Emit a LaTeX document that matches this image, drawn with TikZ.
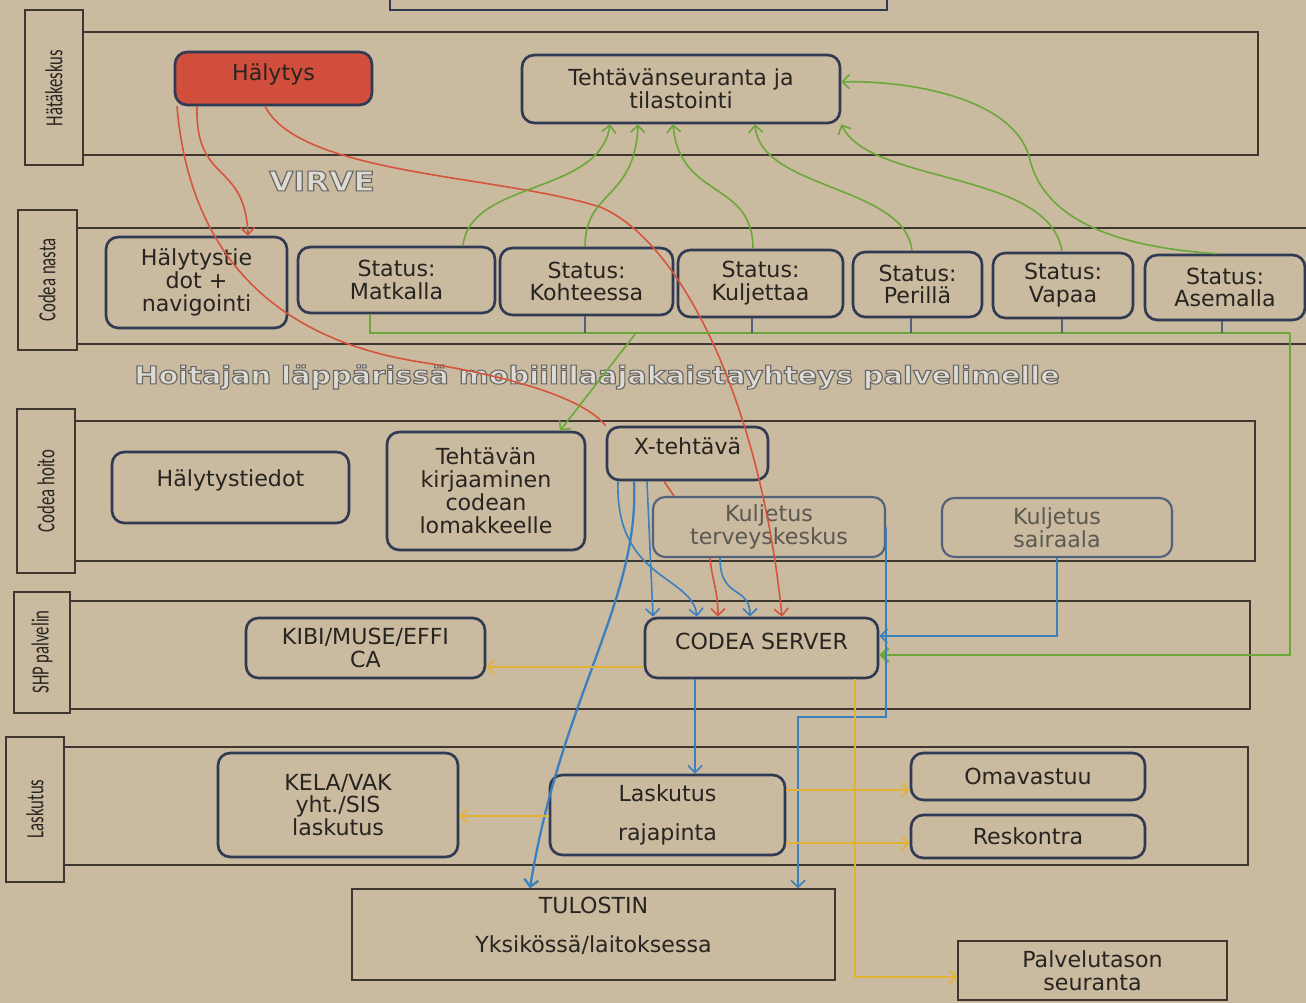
\documentclass[tikz,border=0pt]{standalone}
\usepackage{fontspec}
\usepackage{graphicx}
\setmainfont{DejaVu Sans}
\newfontfamily\lanefont[FakeStretch=0.68]{Carlito}
\usetikzlibrary{arrows.meta}

\definecolor{paper}{RGB}{201,186,160}
\definecolor{cBorder}{RGB}{48,58,82}
\definecolor{cFade}{RGB}{82,98,122}
\definecolor{cInk}{RGB}{40,36,32}
\definecolor{cFadeInk}{RGB}{92,88,82}
\definecolor{cAlarm}{RGB}{210,78,60}
\definecolor{cRed}{RGB}{214,84,62}
\definecolor{cGreen}{RGB}{106,168,56}
\definecolor{cBlue}{RGB}{58,128,190}
\definecolor{cYellow}{RGB}{228,178,50}
\definecolor{cLane}{RGB}{62,55,48}
\definecolor{cHollow}{RGB}{105,103,100}

% outlined lettering (text render mode 2: fill + stroke)
\newcommand\outlined[1]{\special{pdf:literal direct 2 Tr 0.6 w 0.87 0.86 0.83 rg}#1\special{pdf:literal direct 0 Tr}}

\begin{document}
\begin{tikzpicture}[x=0.02cm,y=-0.02cm,
                    >={Straight Barb[length=4pt,width=8pt]},
                    corners/.style args={#1/#2/#3/#4}{at={({(#1+#3)/2},{(#2+#4)/2})},
                                minimum width={(#3-#1)*0.02cm}, minimum height={(#4-#2)*0.02cm}},
                    box/.style={draw=cBorder, line width=1.5pt, rounded corners=7pt, fill=paper,
                                inner sep=0pt, align=center, text=cInk,
                                font=\fontsize{12.6}{13}\selectfont},
                    fade_box/.style={box, draw=cFade, line width=1.2pt, text=cFadeInk},
                    plain_box/.style={box, draw=cLane, line width=0.8pt, rounded corners=0pt},
                    lane_line/.style={draw=cLane, line width=0.7pt},
                    lane_label/.style={inner sep=0pt, rotate=90, text=cInk,
                                       font=\lanefont\fontsize{14}{16}\selectfont},
                    hollow_text/.style={inner sep=0pt, text=cHollow},
                    red_line/.style={draw=cRed, line width=0.9pt},
                    green_line/.style={draw=cGreen, line width=0.9pt},
                    blue_line/.style={draw=cBlue, line width=0.9pt},
                    yellow_line/.style={draw=cYellow, line width=0.9pt},
                    bus_tick/.style={draw=cFade, line width=0.7pt}
                    ]
        \useasboundingbox (0,0) rectangle (1306,1003);
        \fill[paper] (0,0) rectangle (1306,1003);
        \clip (0,0) rectangle (1306,1003);

        % lanes
        \draw[lane_line] (83,32) -| (1258,155) -- (83,155);
        \draw[lane_line] (77,228) -- (1306,228) (77,344) -- (1306,344);
        \draw[lane_line] (75,421) -| (1255,561) -- (75,561);
        \draw[lane_line] (70,601) -| (1250,709) -- (70,709);
        \draw[lane_line] (64,747) -| (1248,865) -- (64,865);
        \draw[lane_line] (25,10) rectangle (83,165)  (18,210) rectangle (77,350)
                         (17,409) rectangle (75,573) (14,592) rectangle (70,713)
                         (6,737) rectangle (64,882);
        \node[lane_label] (hq) at (54,88) {Hätäkeskus};
        \node[lane_label] (nasta) at (47,280) {Codea nasta};
        \node[lane_label] (hoito) at (46,491) {Codea hoito};
        \node[lane_label] (shp) at (42,652) {SHP palvelin};
        \node[lane_label] (billing) at (35,809) {Laskutus};

        % box cut off at the top edge
        \draw[draw=cBorder, line width=1.5pt] (390,-30) |- (887,10) -- (887,-30);

        \node[hollow_text, font=\bfseries\fontsize{15.5}{18}\selectfont] (virve) at (322,181)
            {\scalebox{1.15}[1]{\outlined{VIRVE}}};
        \node[hollow_text, font=\bfseries\fontsize{14}{16}\selectfont] (laptop) at (597,377)
            {\scalebox{1.17}[1]{\outlined{Hoitajan läppärissä mobiililaajakaistayhteys palvelimelle}}};

        % boxes
        \node[box, fill=cAlarm, text depth=7.4pt, corners=175/52/372/105] (alarm) {Hälytys};
        \node[box, corners=522/55/840/123] (stats) {Tehtävänseuranta ja\\tilastointi};
        \node[box, corners=106/237/287/328] (hdot) {Hälytystie\\dot +\\navigointi};
        \node[box, corners=298/247/495/313] (matka) {Status:\\Matkalla};
        \node[box, corners=500/248/673/315] (kohde) {Status:\\Kohteessa};
        \node[box, corners=678/250/843/317] (kulj) {Status:\\Kuljettaa};
        \node[box, corners=853/252/982/317] (peri) {Status:\\Perillä};
        \node[box, corners=993/253/1133/318] (vapaa) {Status:\\Vapaa};
        \node[box, corners=1145/255/1305/320] (asema) {Status:\\Asemalla};
        \node[box, text depth=10.8pt, corners=112/452/349/523] (htied) {Hälytystiedot};
        \node[box, corners=387/432/585/550] (ktask) {Tehtävän\\kirjaaminen\\codean\\lomakkeelle};
        \node[box, text depth=8.5pt, corners=607/427/768/480] (xtask) {X-tehtävä};
        \node[fade_box, corners=653/497/885/557] (tk) {Kuljetus\\terveyskeskus};
        \node[fade_box, corners=942/498/1172/557] (ts) {Kuljetus\\sairaala};
        \node[box, text depth=8pt, corners=645/618/878/678] (server) {CODEA SERVER};
        \node[box, corners=246/618/485/678] (kibi) {KIBI/MUSE/EFFI\\CA};
        \node[box, corners=218/753/458/857] (kela) {KELA/VAK\\yht./SIS\\laskutus};
        \node[box, corners=550/775/785/855] (lr) {Laskutus\\[9pt]rajapinta};
        \node[box, corners=911/753/1145/800] (oma) {Omavastuu};
        \node[box, corners=911/815/1145/858] (resk) {Reskontra};
        \node[plain_box, text depth=11.3pt, corners=352/889/835/980] (print) {TULOSTIN\\[9pt]Yksikössä/laitoksessa};
        \node[plain_box, corners=958/941/1227/1000] (pal) {Palvelutason\\seuranta};

        % red
        \draw[red_line, ->] (alarm.south -| 197,0) .. controls (195,185) and (245,160) .. (hdot.north -| 248,0);
        \draw[red_line] (alarm.south -| 177,0) .. controls (190,260) and (280,340) .. (420,362)
                        .. controls (520,378) and (585,400) .. (xtask.north west);
        \draw[red_line] (xtask.south -| 664,0) -- (tk.north -| 674,0);
        \draw[red_line, ->] (tk.south -| 710,0) .. controls (712,580) and (718,590) .. (server.north -| 718,0);
        \draw[red_line, ->] (alarm.south -| 265,0) .. controls (300,175) and (500,175) .. (600,207)
                        .. controls (680,240) and (760,400) .. (server.north -| 782,0);

        % green
        \draw[green_line, ->] (matka.north -| 463,0) .. controls (470,180) and (600,195) .. (stats.south -| 610,0);
        \draw[green_line, ->] (kohde.north -| 585,0) .. controls (585,190) and (635,200) .. (stats.south -| 638,0);
        \draw[green_line, ->] (kulj.north -| 753,0) .. controls (753,180) and (680,200) .. (stats.south -| 673,0);
        \draw[green_line, ->] (peri.north -| 912,0) .. controls (905,185) and (760,190) .. (stats.south -| 755,0);
        \draw[green_line, ->] (vapaa.north -| 1062,0) .. controls (1050,170) and (870,185) .. (stats.south east);
        \draw[green_line, ->] (asema.north -| 1217,0) .. controls (1080,245) and (1040,200) .. (1030,160)
                        .. controls (1015,95) and (900,80) .. (stats.east |- 0,82);

        \coordinate (busK) at (636,333);
        \coordinate (busR) at (1290,333);
        \draw[green_line] (matka.south -| 370,0) |- (busR);
        \foreach \n/\x in {kohde/585, kulj/752, peri/911, vapaa/1062, asema/1222}
            \draw[bus_tick] (\n.south -| \x,0) -- (\x,333);
        \draw[green_line, line width=1.6pt, ->] (busR) |- (server.east |- 0,655);
        \draw[green_line, ->] (busK) -- (ktask.north -| 560,0);

        % blue
        \draw[blue_line, ->] (xtask.south -| 618,0) .. controls (615,580) and (692,575) .. (server.north -| 697,0);
        \draw[blue_line, line width=1.3pt, ->] (xtask.south -| 634,0) .. controls (640,600) and (560,700) .. (print.north -| 530,0);
        \draw[blue_line, ->] (xtask.south -| 647,0) -- (server.north -| 653,0);
        \draw[blue_line, ->] (tk.south -| 720,0) .. controls (720,600) and (750,585) .. (server.north -| 750,0);
        \draw[blue_line, ->] (tk.east) |- (798,717) -- (print.north -| 798,0);
        \draw[blue_line, ->] (ts.south) |- (server.east |- 0,636);
        \draw[blue_line, ->] (server.south -| 695,0) -- (lr.north -| 695,0);

        % yellow
        \draw[yellow_line, ->] (server.west |- 0,667) -- (kibi.east |- 0,667);
        \draw[yellow_line, ->] (server.south -| 855,0) |- (pal.west |- 0,977);
        \draw[yellow_line, ->] (lr.west |- 0,816) -- (kela.east |- 0,816);
        \draw[yellow_line, ->] (lr.east |- 0,790) -- (oma.west |- 0,790);
        \draw[yellow_line, ->] (lr.east |- 0,843) -- (resk.west |- 0,843);
\end{tikzpicture}
\end{document}
